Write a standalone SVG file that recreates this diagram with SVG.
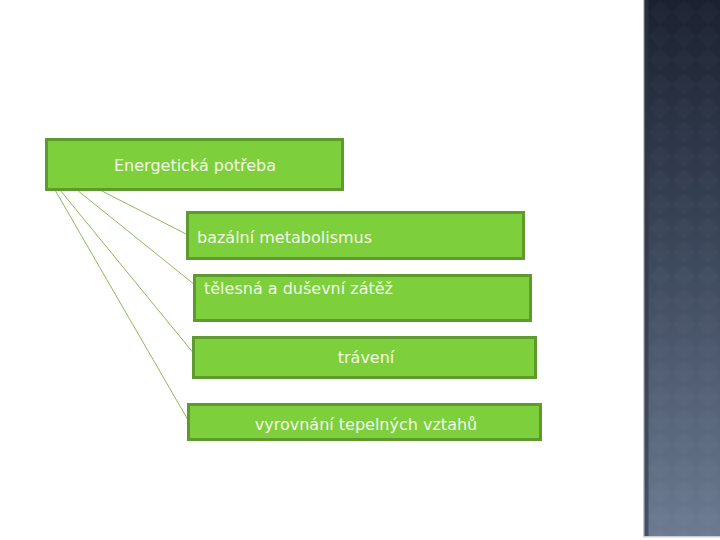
<svg xmlns="http://www.w3.org/2000/svg" width="720" height="540" viewBox="0 0 720 540">
<style>
.box{fill:#7dcf3c;stroke:#5f9a2e;stroke-width:3}
.lbl{font-family:"DejaVu Sans",Verdana,sans-serif;font-size:16px;fill:#f2f9e6}
.conn line{stroke:#8fb85a;stroke-width:1}
</style>
<defs>
<linearGradient id="panel" x1="0" y1="0" x2="0" y2="1">
<stop offset="0" stop-color="#1b2130"/>
<stop offset="0.5" stop-color="#3e4a5e"/>
<stop offset="1" stop-color="#6c7b91"/>
</linearGradient>
<pattern id="dia" width="24" height="24" patternUnits="userSpaceOnUse">
<path d="M12 1 L23 12 L12 23 L1 12 Z" fill="#ffffff" fill-opacity="0.018"/>
</pattern>
</defs>
<rect width="720" height="540" fill="#ffffff"/>
<g id="panel-bg">
<rect x="643" y="0" width="77" height="537" fill="url(#panel)"/>
<rect x="643" y="0" width="77" height="537" fill="url(#dia)"/>
<rect x="643" y="0" width="1.5" height="537" fill="#c9cdd3"/>
<rect x="644.5" y="0" width="4" height="537" fill="#2e3645" fill-opacity="0.6"/>
<rect x="643" y="536" width="77" height="1.5" fill="#c9cdd3"/>
</g>
<g id="connectors" class="conn">
<line x1="100" y1="190" x2="188" y2="235"/>
<line x1="77" y1="190" x2="195" y2="285"/>
<line x1="60" y1="190" x2="195" y2="355"/>
<line x1="55" y1="190" x2="188" y2="420"/>
</g>
<g id="n-energeticka">
<rect class="box" x="46.5" y="139.5" width="296" height="50"/>
<text class="lbl" x="195" y="171" text-anchor="middle">Energetická potřeba</text>
</g>
<g id="n-bazalni">
<rect class="box" x="187.5" y="212.5" width="336" height="46"/>
<text class="lbl" x="197" y="243">bazální metabolismus</text>
</g>
<g id="n-telesna">
<rect class="box" x="194.5" y="275.5" width="336" height="45"/>
<text class="lbl" x="204" y="294">tělesná a duševní zátěž</text>
</g>
<g id="n-traveni">
<rect class="box" x="193.5" y="337.5" width="342" height="40"/>
<text class="lbl" x="366" y="363" text-anchor="middle">trávení</text>
</g>
<g id="n-vyrovnani">
<rect class="box" x="188.5" y="404.5" width="352" height="35"/>
<text class="lbl" x="366" y="430" text-anchor="middle">vyrovnání tepelných vztahů</text>
</g>
</svg>
